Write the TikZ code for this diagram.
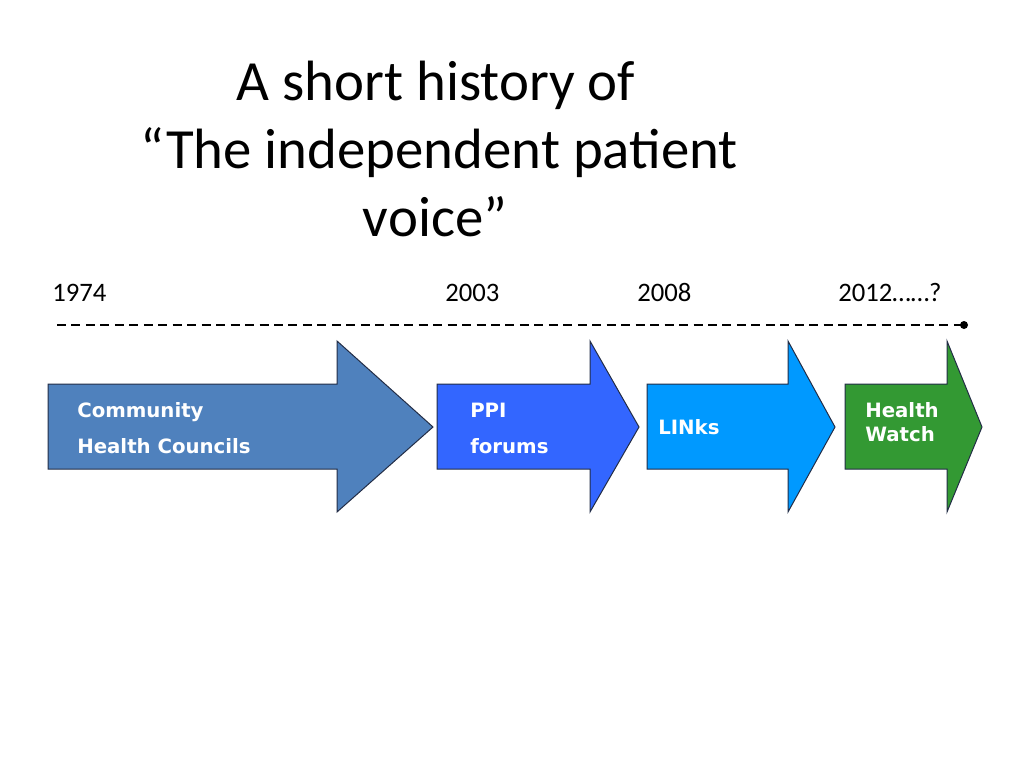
\documentclass[tikz,border=0pt]{standalone}
\usepackage{fontspec}
\setmainfont{Carlito}
\newfontfamily\verd{DejaVu Sans}
\usepackage{tikz}

\begin{document}
\begin{tikzpicture}[x=0.75pt,y=0.75pt,yscale=-1,xscale=1,
  arrowshape/.style={draw={rgb, 255:red, 35; green, 45; blue, 70 },line width=0.75},
  arrowtext/.style={anchor=base west,inner sep=0pt,text=white,font=\verd\bfseries\fontsize{14.8}{17}\selectfont},
  yeartext/.style={anchor=base west,inner sep=0pt,font=\fontsize{20}{24}\selectfont},
  titletext/.style={anchor=base,inner sep=0pt,font=\fontsize{42.6}{51}\selectfont},
  timeline/.style={line width=1.5,dash pattern={on 6.75pt off 4.1pt}}]
\useasboundingbox (0,0) rectangle (1024,768);

% Text Node
\node [titletext] (title1) at (436,100) {A short history of};
% Text Node
\node [titletext] (title2) at (439,168) {“The independent patient};
% Text Node
\node [titletext] (title3) at (435,236) {voice”};

% Text Node
\node [yeartext] (y1974) at (52,301) {1974};
% Text Node
\node [yeartext] (y2003) at (445,301) {2003};
% Text Node
\node [yeartext] (y2008) at (637,301) {2008};
% Text Node
\node [yeartext] (y2012) at (838,301) {2012……?};

%Straight Lines
\coordinate (tlstart) at (57,325);
\coordinate (tlend) at (964,325);
\draw [timeline] (tlstart) -- (tlend);
\fill (tlend) circle (4);

%Right Arrow
\draw [arrowshape,fill={rgb, 255:red, 79; green, 129; blue, 189 }] (48,384) -- (337,384) -- (337,341) -- (433,427) -- (337,512) -- (337,469) -- (48,469) -- cycle ;
%Right Arrow
\draw [arrowshape,fill={rgb, 255:red, 51; green, 102; blue, 255 }] (437,384) -- (590,384) -- (590,341) -- (639,427) -- (590,512) -- (590,469) -- (437,469) -- cycle ;
%Right Arrow
\draw [arrowshape,fill={rgb, 255:red, 0; green, 153; blue, 255 }] (647,384) -- (788,384) -- (788,341) -- (835,427) -- (788,512) -- (788,469) -- (647,469) -- cycle ;
%Right Arrow
\draw [arrowshape,fill={rgb, 255:red, 51; green, 153; blue, 51 }] (845,384) -- (947,384) -- (947,341) -- (982,427) -- (947,512) -- (947,469) -- (845,469) -- cycle ;

% Text Node
\node [arrowtext] (chc1) at (77,417) {Community};
% Text Node
\node [arrowtext] (chc2) at (77,453) {Health Councils};
% Text Node
\node [arrowtext] (ppi1) at (470,417) {PPI};
% Text Node
\node [arrowtext] (ppi2) at (470,453) {forums};
% Text Node
\node [arrowtext] (links) at (658,434) {LINks};
% Text Node
\node [arrowtext] (hw1) at (865,417) {Health};
% Text Node
\node [arrowtext] (hw2) at (865,441) {Watch};

\end{tikzpicture}
\end{document}
